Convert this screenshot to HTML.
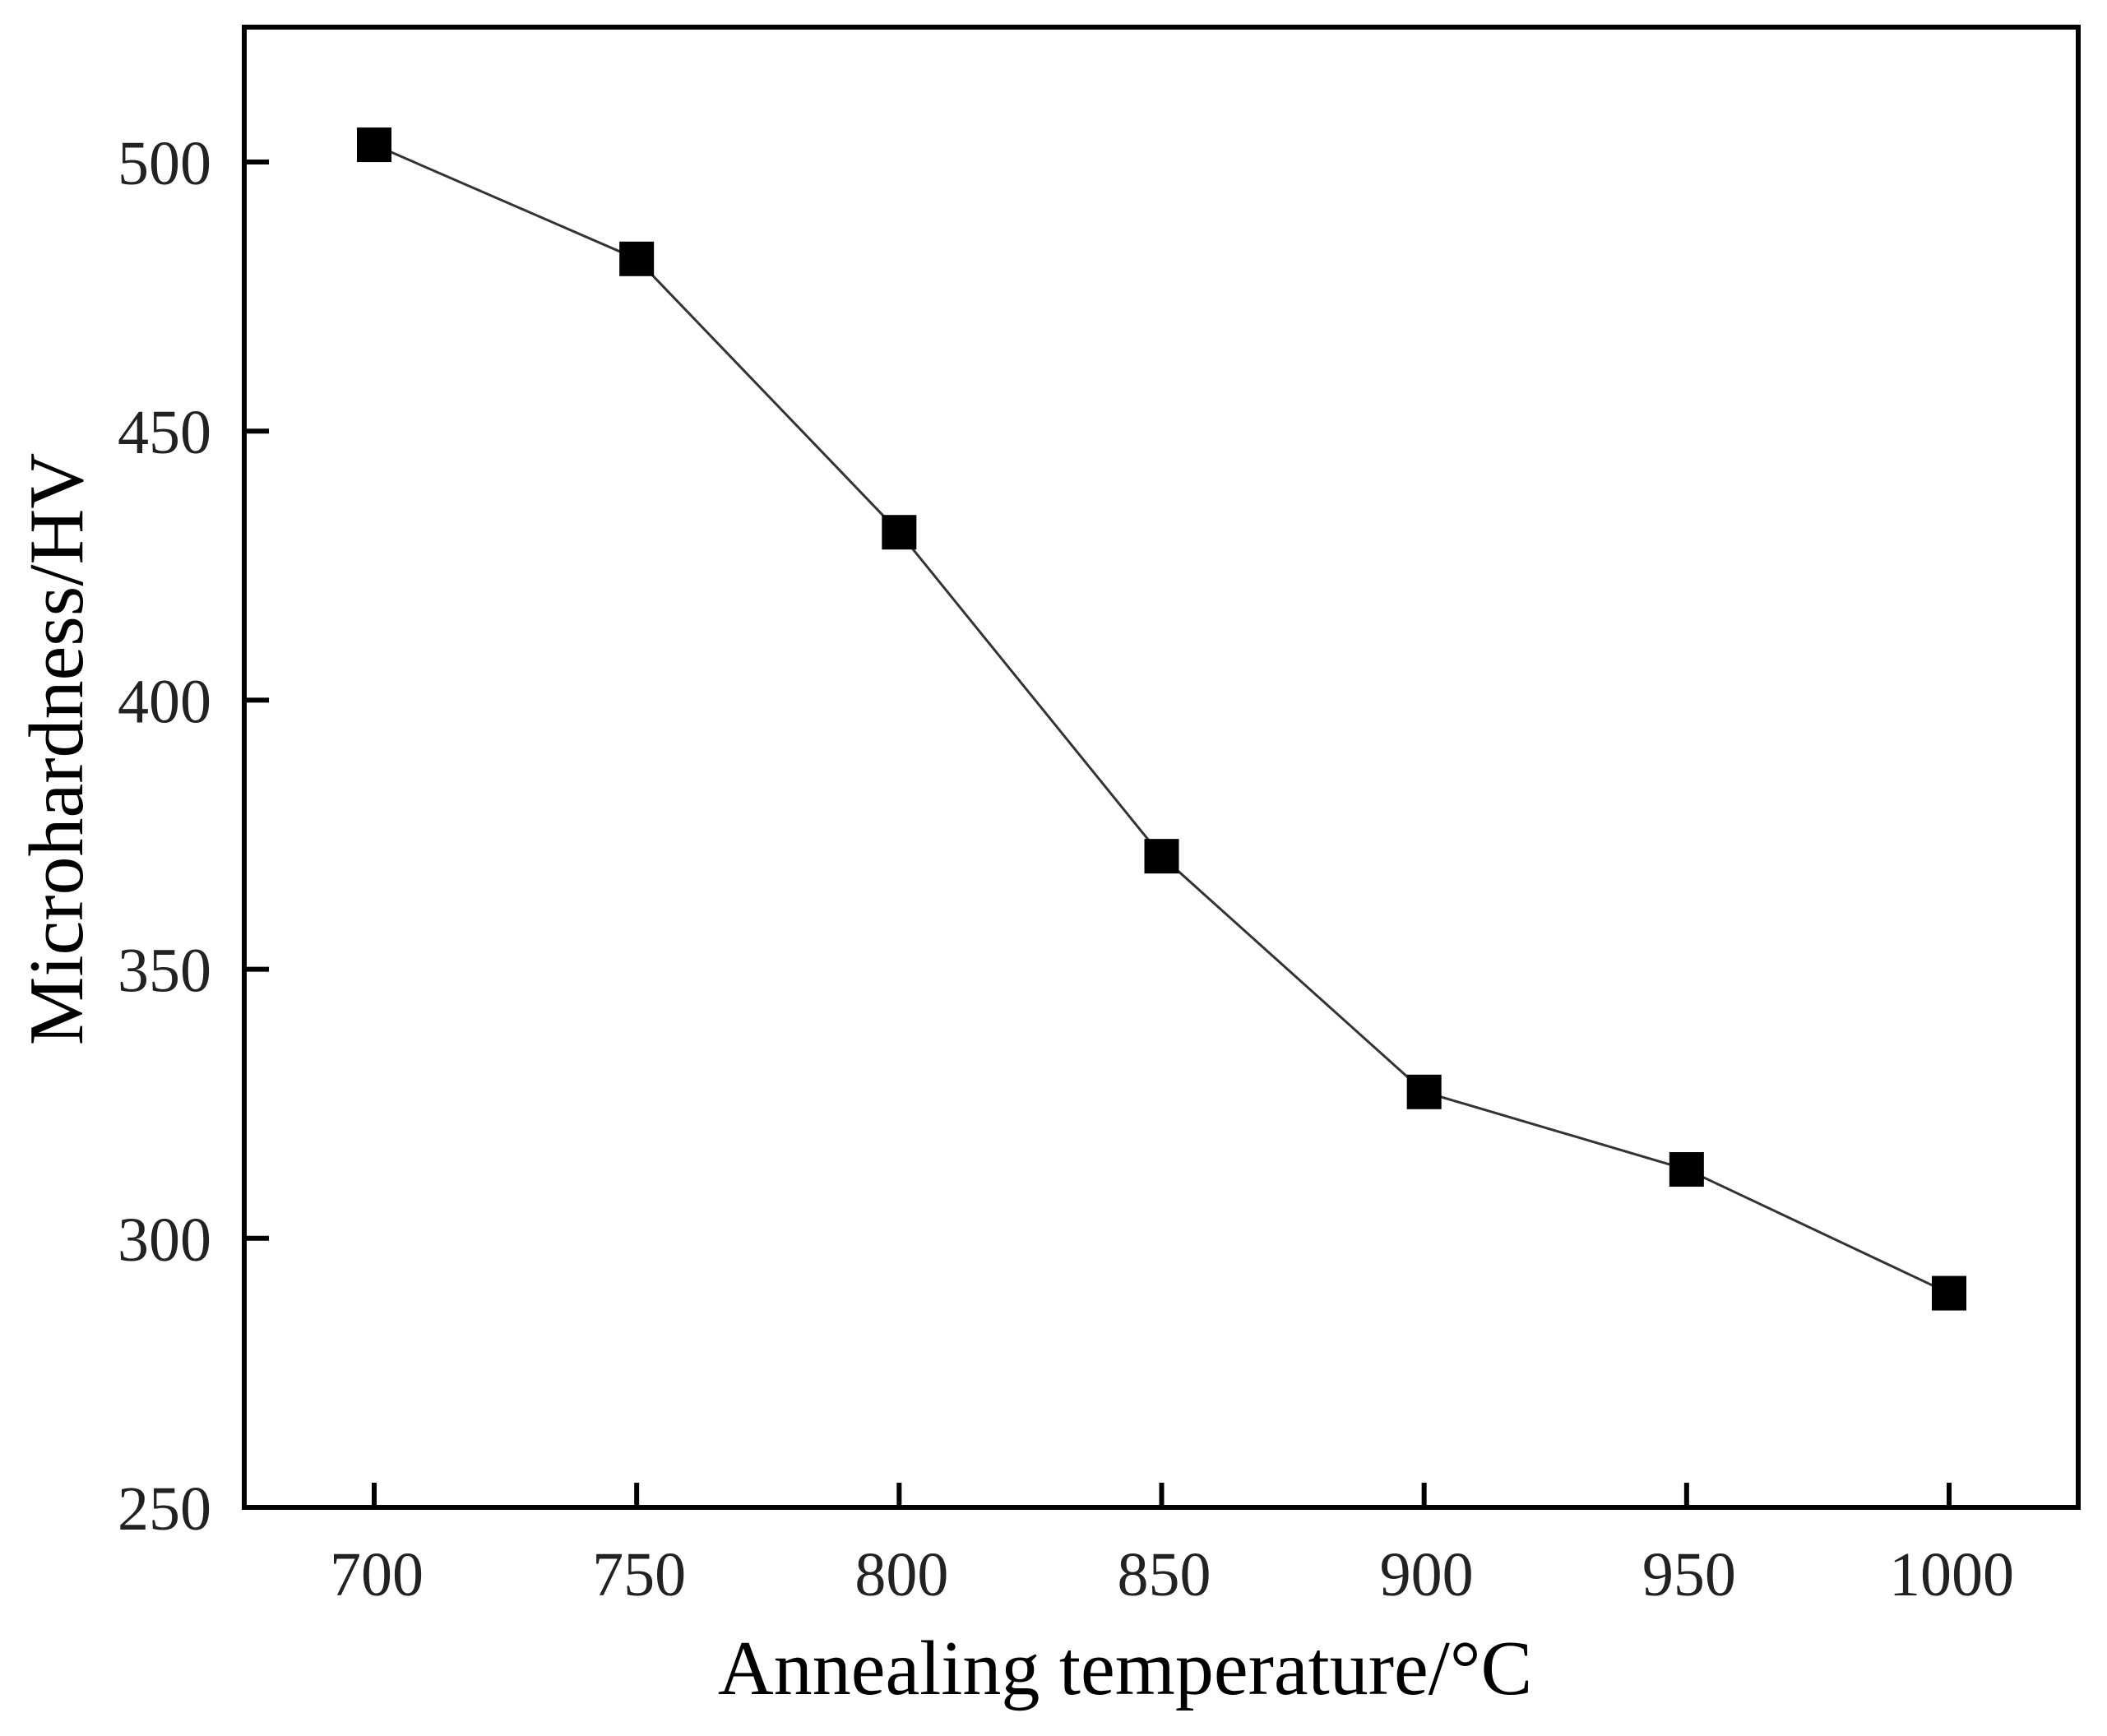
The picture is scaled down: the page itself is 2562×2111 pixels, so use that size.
<!DOCTYPE html>
<html><head><meta charset="utf-8"><style>html,body{margin:0;padding:0;background:#fff}</style></head>
<body>
<svg id="chart" width="2562" height="2106" xmlns="http://www.w3.org/2000/svg" font-family="Liberation Serif, serif">
<rect width="2562" height="2106" fill="#fff"/>
<g id="plot"></g>
</svg>
<script>
const categories = [700, 750, 800, 850, 900, 950, 1000];
const hardness = [503.2, 482, 431.2, 371, 327.2, 312.8, 289.8];
const yTicks = [250, 300, 350, 400, 450, 500];
const xTicks = [700, 750, 800, 850, 900, 950, 1000];

const L = 297, R = 2527, T = 33, B = 1833;
function xs(v){ return 455 + (v - 700) * (2370 - 455) / 300; }
function ys(v){ return 1833 - (v - 250) * (1833 - 197) / 250; }
const NS = 'http://www.w3.org/2000/svg';
const g = document.getElementById('plot');
function mk(tag, attrs){ const e = document.createElementNS(NS, tag); for (const k in attrs) e.setAttribute(k, attrs[k]); g.appendChild(e); return e; }

// line
let d = '';
categories.forEach((c, i) => { d += (i ? 'L' : 'M') + xs(c) + ',' + ys(hardness[i]); });
const line = mk('path', {d: d, fill: 'none', stroke: '#333', 'stroke-width': 3});



categories.forEach((c, i) => {
  const m = mk('rect', {x: xs(c) - 21, y: ys(hardness[i]) - 21, width: 42, height: 42, fill: '#000'});
  
  
});

// frame
const frame = mk('rect', {x: L, y: T, width: R - L, height: B - T, fill: 'none', stroke: '#000', 'stroke-width': 6});



yTicks.forEach(v => {
  const t = mk('line', {x1: L, x2: L + 30, y1: ys(v), y2: ys(v), stroke: '#000', 'stroke-width': 6});
  
  
  const lb = mk('text', {x: 257, y: ys(v) + 27, 'text-anchor': 'end', 'font-size': 76, fill: '#222'});
  lb.textContent = v;
  
  
});
xTicks.forEach(v => {
  const t = mk('line', {x1: xs(v), x2: xs(v), y1: B, y2: B - 30, stroke: '#000', 'stroke-width': 6});
  
  
  const lb = mk('text', {x: xs(v) + 3, y: 1940, 'text-anchor': 'middle', 'font-size': 76, fill: '#222'});
  lb.textContent = v;
  
  
});

const xt = mk('text', {x: 1368, y: 2060, 'text-anchor': 'middle', 'font-size': 94, fill: '#000'});
xt.textContent = 'Annealing temperature/°C';


const yt = mk('text', {x: 0, y: 0, 'text-anchor': 'middle', 'font-size': 94, fill: '#000', transform: 'translate(100,911) rotate(-90)'});
yt.textContent = 'Microhardness/HV';


</script>
</body></html>
